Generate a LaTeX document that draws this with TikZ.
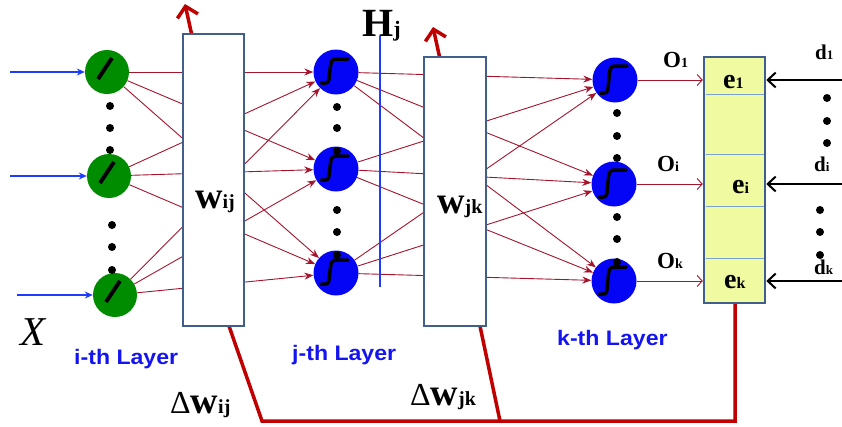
\documentclass[tikz,border=0pt]{standalone}
\usepackage{fontspec}
\setmainfont{Liberation Serif}
\setsansfont{Liberation Sans}
\usetikzlibrary{arrows.meta,calc}
\definecolor{gcol}{RGB}{0,140,0}
\definecolor{bcol}{RGB}{5,5,245}
\definecolor{rline}{RGB}{165,20,45}
\definecolor{rthick}{RGB}{192,0,0}
\definecolor{boxc}{RGB}{65,95,140}
\definecolor{yfill}{RGB}{240,250,160}
\definecolor{sepc}{RGB}{120,160,210}
\definecolor{lblue}{RGB}{20,20,240}
\definecolor{inblue}{RGB}{30,60,255}
\newcommand\twosz[4]{{\fontsize{#1}{#1}\selectfont #2}{\fontsize{#3}{#3}\selectfont #4}}
\begin{document}
\begin{tikzpicture}[x=1pt,y=-1pt,
  gnode/.style={circle,fill=gcol,minimum size=44pt,inner sep=0pt},
  bnode/.style={circle,fill=bcol,minimum size=45pt,inner sep=0pt},
  conn/.style={draw=rline,line width=0.9pt,-{Stealth[length=9pt,width=7pt]}},
  inarr/.style={draw=inblue,line width=1.1pt,-{Stealth[length=8pt,width=7pt]}},
  oarr/.style={draw=rline,line width=0.9pt,-{Straight Barb[length=5pt,width=11pt]}},
  darr/.style={draw=black,line width=2pt,-{Straight Barb[length=8pt,width=15pt]}},
  uparr/.style={draw=rthick,line width=3.5pt,-{Straight Barb[length=10pt,width=21pt]}},
  fb/.style={draw=rthick,line width=3.5pt},
  wbox/.style={draw=boxc,line width=2.5pt,fill=white,inner sep=0pt},
  ebox/.style={draw=boxc,line width=2.5pt,fill=yfill,inner sep=0pt},
  sepl/.style={draw=sepc,line width=1pt},
  sig/.style={draw=black,line width=3.5pt,line cap=round,line join=round},
  slash/.style={draw=black,line width=4pt},
  hl/.style={draw=inblue,line width=2.5pt},
  lbl/.style={inner sep=0pt,anchor=base west,font=\bfseries},
  layer/.style={inner sep=0pt,anchor=base west,text=lblue,font=\sffamily\bfseries\fontsize{21}{21}\selectfont}
]
\path[use as bounding box] (0,0) rectangle (842,426);

% neurons
\node[gnode] (i1) at (107,72) {};
\node[gnode] (i2) at (109,176) {};
\node[gnode] (i3) at (115,295) {};
\node[bnode] (j1) at (336,72) {};
\node[bnode] (j2) at (336,169) {};
\node[bnode] (j3) at (336,273) {};
\node[bnode] (k1) at (615,80) {};
\node[bnode] (k2) at (614,184) {};
\node[bnode] (k3) at (614,281) {};

% connections
\foreach \a in {i1,i2,i3}{\foreach \b in {j1,j2,j3}{\draw[conn] (\a) -- (\b);}}
\foreach \a in {j1,j2,j3}{\foreach \b in {k1,k2,k3}{\draw[conn] (\a) -- (\b);}}

% up arrows
\coordinate (u1s) at (192,36); \coordinate (u1e) at (185,4);
\coordinate (u2s) at (440,59); \coordinate (u2e) at (433,27);
\draw[uparr] (u1s) -- (u1e);
\draw[uparr] (u2s) -- (u2e);

% feedback
\coordinate (wijb) at (229,326);
\coordinate (wjkb) at (480,326);
\coordinate (fbA) at (262,421);
\coordinate (fbB) at (500,421);
\coordinate (fbC) at (735,421);
\coordinate (ebb) at (735,303);
\draw[fb,line join=miter] (wijb) -- (fbA) -- (fbC) -- (ebb);
\draw[fb] (wjkb) -- (fbB);

% boxes
\node[wbox,minimum width=61pt,minimum height=292pt] (wij) at (213.5,180) {};
\node[wbox,minimum width=62pt,minimum height=269pt] (wjk) at (455,191.5) {};
\node[ebox,minimum width=61pt,minimum height=246pt] (eb) at (734.5,180) {};
\foreach \yy in {94,154,206,258}{\draw[sepl] (705.5,\yy) -- (763.5,\yy);}

% H_j line
\coordinate (h1) at (380,36); \coordinate (h2) at (380,287);
\draw[hl] (h1) -- (h2);

% inputs
\coordinate (x1) at (10,72); \coordinate (x2) at (10,176); \coordinate (x3) at (17,295);
\draw[inarr] (x1) -- (i1);
\draw[inarr] (x2) -- (i2);
\draw[inarr] (x3) -- (i3);

% outputs
\foreach \k in {k1,k2,k3}{\draw[oarr] (\k) -- (\k -| eb.west);}
\coordinate (d1) at (842,80); \coordinate (d2) at (842,184); \coordinate (d3) at (842,281);
\foreach \d in {d1,d2,d3}{\draw[darr] (\d) -- (\d -| eb.east);}

% symbols
\foreach \n in {i1,i2,i3}{\draw[slash,shift={(\n.center)}] (-9,7) -- (5,-14);}
\foreach \n in {j1,j2,j3}{\draw[sig,shift={(\n.center)}] (-15,11) -- (-11,11) .. controls (-7,11) and (-7,8) .. (-6.5,2) -- (-5.5,-6) .. controls (-5,-12) and (-3,-13) .. (1,-13) -- (12,-13);}
\foreach \n in {k1,k2,k3}{\draw[sig,shift={(\n.center)}] (-15,13) -- (-11,13) .. controls (-7,13) and (-7,10) .. (-6.5,3) -- (-5.5,-7) .. controls (-5,-13) and (-3,-14) .. (1,-14) -- (12,-14);}

% dots
\foreach \p in {(110,106),(110,128),(110,150),(112,225),(112,247),(112,270),
                (337,107),(337,128),(337,151),(337,210),(337,232),(337,255),
                (617,113),(617,136),(617,158),(617,217),(617,239),(617,262),
                (827,98),(827,121),(827,143),(820,210),(820,232),(820,255)}
  {\fill[black] \p circle (4);}

% labels
\node[lbl] (lwij) at (195,208) {\twosz{38}{w}{20}{ij}};
\node[lbl] (lwjk) at (437,213) {\twosz{38}{w}{20}{jk}};
\node[lbl] (lhj) at (362,36) {\twosz{40}{H}{22}{j}};
\node[lbl] (le1) at (723,88) {\twosz{28}{e}{16}{1}};
\node[lbl] (lei) at (732,193) {\twosz{28}{e}{16}{i}};
\node[lbl] (lek) at (724,288) {\twosz{28}{e}{16}{k}};
\node[lbl] (lo1) at (663,67) {\twosz{23}{O}{14}{1}};
\node[lbl] (loi) at (657,171) {\twosz{23}{O}{14}{i}};
\node[lbl] (lok) at (657,268) {\twosz{23}{O}{14}{k}};
\node[lbl] (ld1) at (815,59) {\twosz{21}{d}{13}{1}};
\node[lbl] (ldi) at (814,171) {\twosz{21}{d}{13}{i}};
\node[lbl] (ldk) at (814,274) {\twosz{21}{d}{13}{k}};
\node[inner sep=0pt,anchor=base west] (ldij) at (170,413) {{\fontsize{32}{32}\selectfont Δ}\textbf{\twosz{38}{w}{20}{ij}}};
\node[inner sep=0pt,anchor=base west] (ldjk) at (410,405) {{\fontsize{32}{32}\selectfont Δ}\textbf{\twosz{38}{w}{20}{jk}}};
\node[inner sep=0pt,anchor=base west] (lx) at (20,345) {\fontsize{41}{41}\selectfont\itshape X};
\node[layer] (li) at (74,364) {\scalebox{1.1}[1]{i-th Layer}};
\node[layer] (lj) at (292,360) {\scalebox{1.1}[1]{j-th Layer}};
\node[layer] (lk) at (557,345) {\scalebox{1.1}[1]{k-th Layer}};
\end{tikzpicture}
\end{document}
